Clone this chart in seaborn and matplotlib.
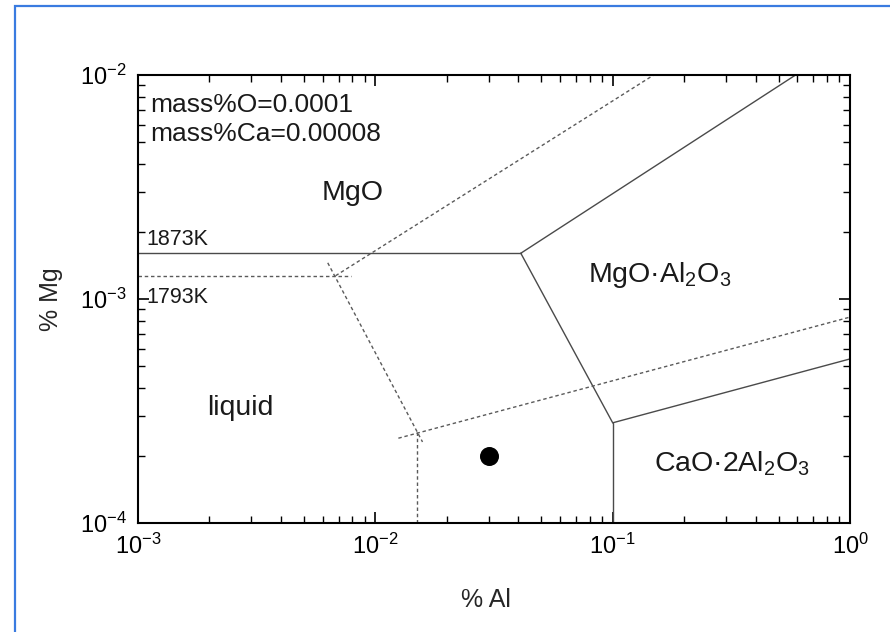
import pandas as pd
import matplotlib
matplotlib.use("Agg")
import matplotlib.pyplot as plt
import seaborn as sns
from matplotlib.patches import Rectangle
from matplotlib.ticker import LogLocator, NullFormatter

# phase boundaries at 1873K (solid lines), % Al vs % Mg
al_1873_liq_mgo = [0.001, 0.041]
mg_1873_liq_mgo = [1.6e-3, 1.6e-3]
al_1873_mgo_sp = [0.041, 0.59]
mg_1873_mgo_sp = [1.6e-3, 1.0e-2]
al_1873_liq_sp = [0.041, 0.1]
mg_1873_liq_sp = [1.6e-3, 2.8e-4]
al_1873_liq_ca2 = [0.1, 0.1]
mg_1873_liq_ca2 = [2.8e-4, 1.0e-4]
al_1873_sp_ca2 = [0.1, 1.0]
mg_1873_sp_ca2 = [2.8e-4, 5.4e-4]

# phase boundaries at 1793K (dashed lines)
al_1793_liq_mgo = [0.001, 0.0079]
mg_1793_liq_mgo = [1.27e-3, 1.27e-3]
al_1793_mgo_sp = [0.0068, 0.149]
mg_1793_mgo_sp = [1.27e-3, 1.0e-2]
al_1793_liq_sp = [0.0063, 0.0158]
mg_1793_liq_sp = [1.45e-3, 2.3e-4]
al_1793_sp_ca2 = [0.0125, 1.0]
mg_1793_sp_ca2 = [2.39e-4, 8.3e-4]
al_1793_liq_ca2 = [0.015, 0.015]
mg_1793_liq_ca2 = [2.55e-4, 1.0e-4]

# composition of the steel sample
point_al = [0.03]
point_mg = [2.0e-4]

segments = [
    ("1873K", "liq_mgo", al_1873_liq_mgo, mg_1873_liq_mgo),
    ("1873K", "mgo_sp", al_1873_mgo_sp, mg_1873_mgo_sp),
    ("1873K", "liq_sp", al_1873_liq_sp, mg_1873_liq_sp),
    ("1873K", "liq_ca2", al_1873_liq_ca2, mg_1873_liq_ca2),
    ("1873K", "sp_ca2", al_1873_sp_ca2, mg_1873_sp_ca2),
    ("1793K", "liq_mgo", al_1793_liq_mgo, mg_1793_liq_mgo),
    ("1793K", "mgo_sp", al_1793_mgo_sp, mg_1793_mgo_sp),
    ("1793K", "liq_sp", al_1793_liq_sp, mg_1793_liq_sp),
    ("1793K", "sp_ca2", al_1793_sp_ca2, mg_1793_sp_ca2),
    ("1793K", "liq_ca2", al_1793_liq_ca2, mg_1793_liq_ca2),
]
rows = []
for temp, name, al, mg in segments:
    for a, m in zip(al, mg):
        rows.append({"temp": temp, "seg": temp + name, "Al": a, "Mg": m})
df = pd.DataFrame(rows)

sns.set_theme(style="ticks")
plt.rcParams["font.family"] = ["Liberation Sans", "DejaVu Sans"]
plt.rcParams["mathtext.fontset"] = "custom"
plt.rcParams["mathtext.rm"] = "Liberation Sans"
plt.rcParams["mathtext.it"] = "Liberation Sans:italic"
plt.rcParams["mathtext.default"] = "regular"

fig = plt.figure(figsize=(8.9, 6.32), dpi=100)
ax = fig.add_axes([0.1551, 0.1725, 0.8, 0.7089])

sns.lineplot(data=df, x="Al", y="Mg", hue="temp", style="temp", units="seg",
             estimator=None, sort=False, ax=ax, legend=False,
             palette={"1873K": "#4a4a4a", "1793K": "#5a5a5a"},
             dashes={"1873K": "", "1793K": (2.5, 2)}, linewidth=1.0)
sns.scatterplot(x=point_al, y=point_mg, s=160, color="black", edgecolor="black",
                ax=ax, zorder=5)

ax.set_xscale("log")
ax.set_yscale("log")
ax.set_xlim(1e-3, 1.0)
ax.set_ylim(1e-4, 1e-2)
ax.xaxis.set_minor_locator(LogLocator(base=10, subs=range(2, 10), numticks=20))
ax.yaxis.set_minor_locator(LogLocator(base=10, subs=range(2, 10), numticks=20))
ax.xaxis.set_minor_formatter(NullFormatter())
ax.yaxis.set_minor_formatter(NullFormatter())
ax.tick_params(which="both", direction="in", top=True, right=True, colors="black")
ax.tick_params(which="major", length=8, width=1.2, labelsize=17, pad=8)
ax.tick_params(which="minor", length=5, width=1.0)
for sp in ax.spines.values():
    sp.set_linewidth(1.5)
    sp.set_color("black")

ax.set_xlabel("% Al", fontsize=18)
ax.set_ylabel("% Mg", fontsize=18)
ax.xaxis.set_label_coords(0.489, -0.145)
ax.yaxis.set_label_coords(-0.105, 0.5)

txt = dict(transform=ax.transAxes, color="#1a1a1a")
ax.text(0.017, 0.917, "mass%O=0.0001", fontsize=19, **txt)
ax.text(0.017, 0.853, "mass%Ca=0.00008", fontsize=19, **txt)
ax.text(0.301, 0.72, "MgO", fontsize=20.5, ha="center", **txt)
ax.text(0.012, 0.62, "1873K", fontsize=15.5, **txt)
ax.text(0.012, 0.49, "1793K", fontsize=15.5, **txt)
ax.text(0.632, 0.538, "MgO·Al$_2$O$_3$", fontsize=20.5, **txt)
ax.text(0.097, 0.241, "liquid", fontsize=20.5, **txt)
ax.text(0.725, 0.114, "CaO·2Al$_2$O$_3$", fontsize=20.5, **txt)

# blue frame around the scanned figure
fig.patches.append(Rectangle((15 / 890, -0.1), 1.2, 0.1 + (632 - 6) / 632,
                             transform=fig.transFigure, fill=False,
                             edgecolor="#3a7be0", linewidth=1.6))

fig.savefig("out.png", dpi=100)
